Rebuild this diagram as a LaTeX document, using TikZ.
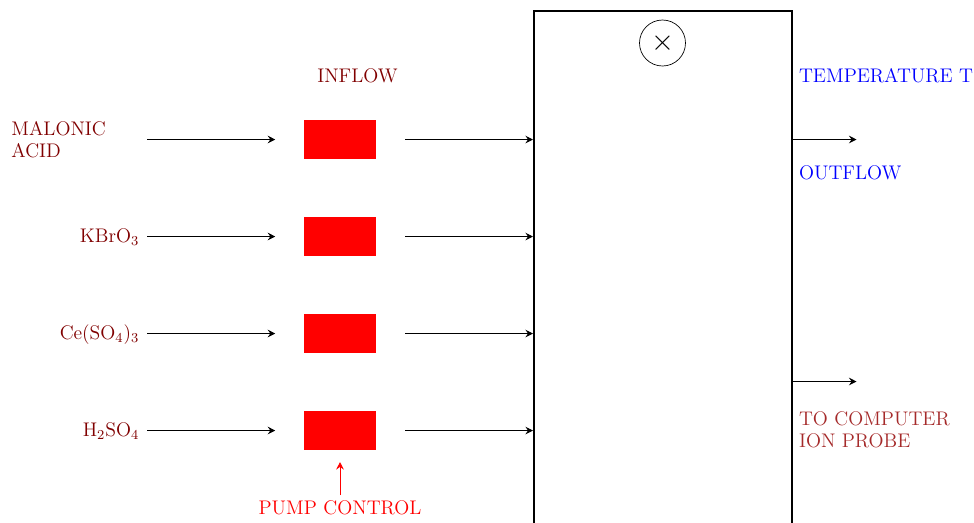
\documentclass[tikz,border=0pt]{standalone}
\usepackage{amsmath}
\usetikzlibrary{arrows.meta}
\definecolor{maroonlab}{HTML}{800000}
\definecolor{brownlab}{HTML}{A52A2A}
\tikzset{
  lab/.style={inner sep=0pt,font=\fontsize{11.55}{13}\selectfont,align=left},
  pump/.style={fill=red,draw=none,minimum width=72\pxu,minimum height=39.4\pxu,inner sep=0pt,outer xsep=29\pxu},
  flow/.style={-{Stealth[length=4.4pt,width=4.4pt,inset=1.5pt]},line width=0.5pt},
  reactorbox/.style={draw,line width=0.8pt,minimum width=258\pxu,minimum height=600\pxu,inner sep=0pt,outer sep=0pt}
}
\newcommand{\pxu}{*0.0206186cm}
\begin{document}
\begin{tikzpicture}[x=0.0206186cm,y=-0.0206186cm]
\clip (0,0) rectangle (974,522);
\node[reactorbox,anchor=north west] (box) at (534,11) {};
\node[circle,draw,line width=0.4pt,minimum size=46\pxu,inner sep=0pt,font=\fontsize{19}{20}\selectfont] (stir) at (662.5,43) {$\times$};
\node[lab,text=maroonlab,anchor=base] (inflow) at (357.5,82) {INFLOW};
\foreach \n/\y in {1/139.5,2/236.5,3/333.5,4/430.5}{
  \node[pump] (p\n) at (340.25,\y-0.2) {};
  \coordinate (s\n) at (147,\y);
  \coordinate (e\n) at (405,\y);
  \draw[flow] (s\n) -- (p\n.west |- s\n);
  \draw[flow,shorten >=0.6pt] (e\n) -- (e\n -| box.west);
}
\node[lab,text=maroonlab,anchor=base west] (mal) at (11,135) {MALONIC};
\node[lab,text=maroonlab,anchor=base west] (acid) at (11,157) {ACID};
\node[lab,text=maroonlab,anchor=base east] (kbr) at (139.5,242) {KBrO$_3$};
\node[lab,text=maroonlab,anchor=base east] (ce) at (139.5,339) {Ce(SO$_4$)$_3$};
\node[lab,text=maroonlab,anchor=base east] (hso) at (139.5,436) {H$_2$SO$_4$};
\node[lab,text=blue,anchor=base west] (temp) at (798.7,82) {TEMPERATURE T};
\node[lab,text=blue,anchor=base west] (out) at (798.7,179) {OUTFLOW};
\node[lab,text=brownlab,anchor=base west] (comp) at (798.7,425) {TO COMPUTER};
\node[lab,text=brownlab,anchor=base west] (ion) at (798.7,447) {ION PROBE};
\node[lab,text=red,anchor=base] (pc) at (340,514) {PUMP CONTROL};
\coordinate (o1) at (856.5,139.5);
\coordinate (o2) at (856.5,381.5);
\draw[flow] (box.east |- o1) -- (o1);
\draw[flow] (box.east |- o2) -- (o2);
\coordinate (c1) at (340,495);
\coordinate (c2) at (340,462);
\draw[flow,red] (c1) -- (c2);
\end{tikzpicture}
\end{document}
